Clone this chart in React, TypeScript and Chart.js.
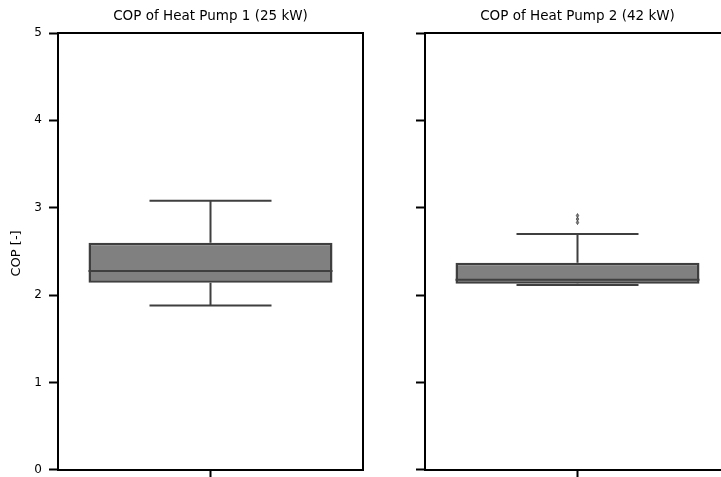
import React, { useEffect, useRef } from "react";
import { Chart, registerables } from "chart.js";

Chart.register(...registerables);

const titles = ["COP of Heat Pump 1 (25 kW)", "COP of Heat Pump 2 (42 kW)"];
const yAxisTitle = "COP [-]";
const categories = ["HP1", "HP2"];
const yTicks = [0, 1, 2, 3, 4, 5];
const whiskerLow = [1.88, 2.115];
const q1 = [2.14, 2.13];
const median = [2.276, 2.175];
const q3 = [2.598, 2.37];
const whiskerHigh = [3.08, 2.70];
const outliers: number[][] = [[], [2.91, 2.87, 2.83]];

const FONT = "'DejaVu Sans', sans-serif";
const EDGE = "#3f3f3f";
const FILL = "#808080";

const boxPlugin = {
  id: "boxExtras",
  afterDatasetsDraw(chart: any) {
    const idx = chart.options.plugins.boxExtras.idx;
    const { ctx, chartArea, scales } = chart;
    const xs = scales.x;
    const ys = scales.y;
    const cx = xs.getPixelForValue(0);
    const catW = chartArea.right - chartArea.left;
    const capHalf = catW * 0.8 * 0.25;
    ctx.save();
    ctx.strokeStyle = EDGE;
    ctx.lineWidth = 2;
    ctx.lineCap = "butt";
    const yWl = ys.getPixelForValue(whiskerLow[idx]);
    const yQ1 = ys.getPixelForValue(q1[idx]);
    const yQ3 = ys.getPixelForValue(q3[idx]);
    const yWh = ys.getPixelForValue(whiskerHigh[idx]);
    const yMed = ys.getPixelForValue(median[idx]);
    ctx.beginPath();
    ctx.moveTo(cx, yQ1);
    ctx.lineTo(cx, yWl);
    ctx.moveTo(cx, yQ3);
    ctx.lineTo(cx, yWh);
    ctx.moveTo(cx - capHalf, yWl);
    ctx.lineTo(cx + capHalf, yWl);
    ctx.moveTo(cx - capHalf, yWh);
    ctx.lineTo(cx + capHalf, yWh);
    const boxHalf = catW * 0.8 * 0.5;
    ctx.moveTo(cx - boxHalf, yMed);
    ctx.lineTo(cx + boxHalf, yMed);
    ctx.stroke();
    // outliers
    ctx.fillStyle = FILL;
    ctx.lineWidth = 0.8;
    for (const v of outliers[idx]) {
      const py = ys.getPixelForValue(v);
      ctx.beginPath();
      ctx.moveTo(cx, py - 2);
      ctx.lineTo(cx + 1.2, py);
      ctx.lineTo(cx, py + 2);
      ctx.lineTo(cx - 1.2, py);
      ctx.closePath();
      ctx.fill();
      ctx.stroke();
    }
    // spines top/right
    ctx.strokeStyle = "#000";
    ctx.lineWidth = 2;
    ctx.beginPath();
    ctx.moveTo(chartArea.left, chartArea.top);
    ctx.lineTo(chartArea.right, chartArea.top);
    ctx.lineTo(chartArea.right, chartArea.bottom);
    ctx.stroke();
    // title
    ctx.fillStyle = "#000";
    ctx.font = `13.5px ${FONT}`;
    ctx.textAlign = "center";
    ctx.textBaseline = "middle";
    ctx.fillText(titles[idx], (chartArea.left + chartArea.right) / 2, 16);
    if (idx === 0) {
      ctx.translate(17, (chartArea.top + chartArea.bottom) / 2 + 2);
      ctx.rotate(-Math.PI / 2);
      ctx.font = `13px ${FONT}`;
      ctx.fillText(yAxisTitle, 0, 0);
    }
    ctx.restore();
  },
};

function Panel({ idx, left }: { idx: number; left: number }) {
  const ref = useRef<HTMLCanvasElement>(null);
  useEffect(() => {
    const chart = new Chart(ref.current!, {
      type: "bar",
      data: {
        labels: [categories[idx]],
        datasets: [
          {
            data: [[q1[idx], q3[idx]]] as any,
            backgroundColor: FILL,
            borderColor: EDGE,
            borderWidth: 2.5,
            borderSkipped: false,
            barPercentage: 0.8,
            categoryPercentage: 1,
          },
        ],
      },
      options: {
        animation: false,
        responsive: false,
        maintainAspectRatio: false,
        layout: { padding: { top: 33, right: 10, left: 0, bottom: 0 } },
        plugins: {
          legend: { display: false },
          tooltip: { enabled: false },
          boxExtras: { idx },
        } as any,
        scales: {
          x: {
            grid: { drawOnChartArea: false, tickLength: 8, tickColor: "#000", tickWidth: 2, offset: false },
            border: { display: true, color: "#000", width: 2 },
            ticks: { callback: () => "", padding: 0 },
            afterFit: (s: any) => { s.height = 9; },
          },
          y: {
            min: 0,
            max: 5,
            afterBuildTicks: (s: any) => { s.ticks = yTicks.map((v) => ({ value: v })); },
            grid: { drawOnChartArea: false, tickLength: 9, tickColor: "#000", tickWidth: 2 },
            border: { display: true, color: "#000", width: 2 },
            ticks: {
              color: "#000",
              font: { family: FONT, size: 12 },
              padding: 7,
              callback: (v: any) => (idx === 0 ? String(v) : ""),
            },
            afterFit: (s: any) => { s.width = 58; },
          },
        },
      },
      plugins: [boxPlugin],
    });
    return () => chart.destroy();
  }, [idx]);
  return (
    <canvas
      ref={ref}
      width={373}
      height={484}
      style={{ position: "absolute", left, top: 0, width: 373, height: 484 }}
    />
  );
}

export default function App() {
  return (
    <div
      style={{
        position: "fixed",
        left: 0,
        top: 0,
        width: 721,
        height: 477,
        overflow: "hidden",
        background: "#fff",
      }}
    >
      <Panel idx={0} left={0} />
      <Panel idx={1} left={367} />
    </div>
  );
}
